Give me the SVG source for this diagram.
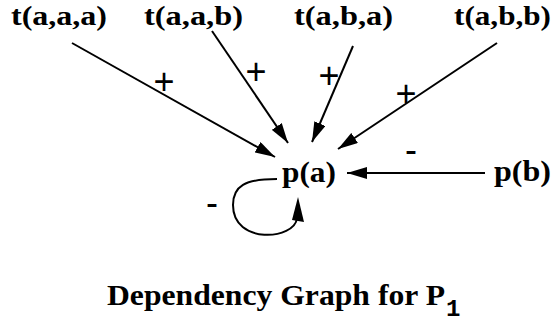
<svg xmlns="http://www.w3.org/2000/svg" width="553" height="323" viewBox="0 0 553 323">
<style>
.n{font-family:"Liberation Serif","Times New Roman",serif;font-weight:bold;font-size:29px;fill:#000}
.t{font-size:27px}
.l{font-family:"Liberation Sans",Arial,sans-serif;font-size:36px;fill:#000}
.e{stroke:#000;stroke-width:2;fill:none;marker-end:url(#ah)}
</style>
<defs>
<marker id="ah" viewBox="0 0 20 12" refX="20" refY="6" markerWidth="20" markerHeight="12" markerUnits="userSpaceOnUse" orient="auto">
<path d="M0,0 L20,6 L0,12 z" fill="#000"/>
</marker>
</defs>
<rect width="553" height="323" fill="#fff"/>
<g id="connectors">
<path class="e" d="M72,43 L275,157"/>
<path class="e" d="M212,31 L288,143"/>
<path class="e" d="M353,46 L312,142"/>
<path class="e" d="M497,43 L338,149"/>
<path class="e" d="M485,173 L347,173"/>
<path d="M277,179 C245,179 233,186 233,205 C233,245 295,240 297,218" stroke="#000" stroke-width="2" fill="none"/>
<path d="M292,220 L298,197 L304,222 z" fill="#000"/>
<text class="l" x="164" y="94" text-anchor="middle">+</text>
<text class="l" x="256" y="84" text-anchor="middle">+</text>
<text class="l" x="329" y="88" text-anchor="middle">+</text>
<text class="l" x="406" y="106" text-anchor="middle">+</text>
<text class="l" x="411" y="162" text-anchor="middle">-</text>
<text class="l" x="212" y="215" text-anchor="middle">-</text>
</g>
<g id="taaa"><text class="n t" x="11" y="25" textLength="96" lengthAdjust="spacingAndGlyphs">t(a,a,a)</text></g>
<g id="taab"><text class="n t" x="144" y="25" textLength="99" lengthAdjust="spacingAndGlyphs">t(a,a,b)</text></g>
<g id="taba"><text class="n t" x="294" y="25" textLength="99" lengthAdjust="spacingAndGlyphs">t(a,b,a)</text></g>
<g id="tabb"><text class="n t" x="454" y="25" textLength="97" lengthAdjust="spacingAndGlyphs">t(a,b,b)</text></g>
<g id="pa"><text class="n" x="282" y="182" textLength="54" lengthAdjust="spacingAndGlyphs">p(a)</text></g>
<g id="pb"><text class="n" x="494" y="181" textLength="57" lengthAdjust="spacingAndGlyphs">p(b)</text></g>
<g id="title"><text class="n" x="107" y="305" font-size="27" textLength="338" lengthAdjust="spacingAndGlyphs">Dependency Graph for P</text><text x="446" y="316" font-family="Liberation Mono,monospace" font-size="24" font-weight="bold">1</text></g>
</svg>
